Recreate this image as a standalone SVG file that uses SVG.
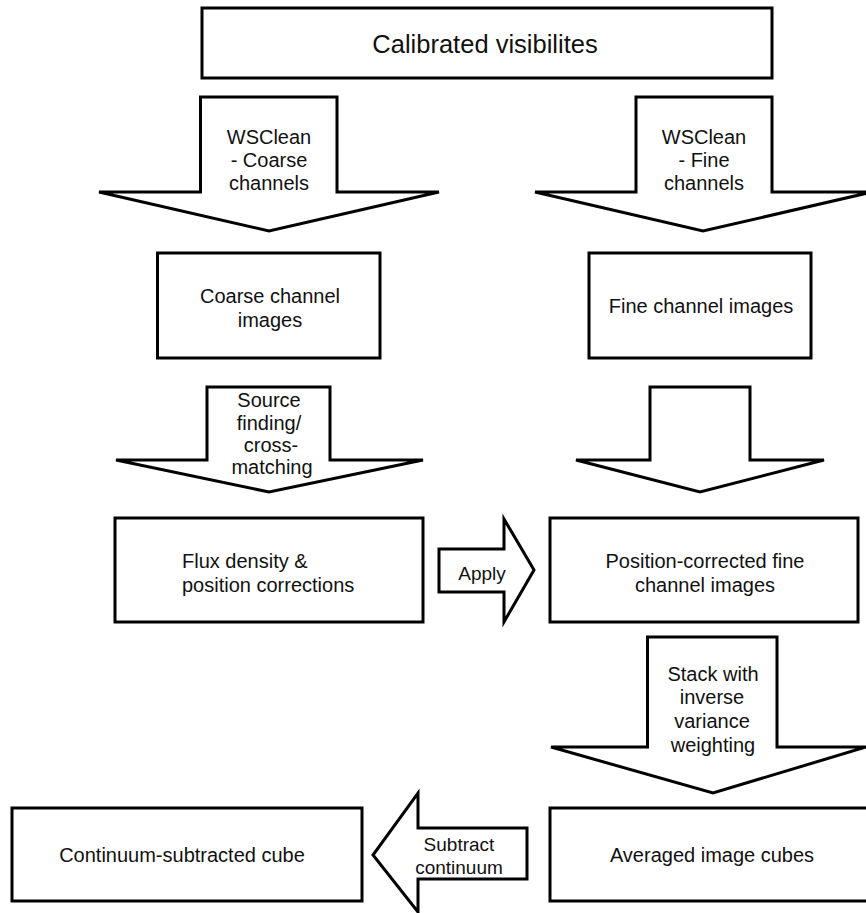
<svg xmlns="http://www.w3.org/2000/svg" width="866" height="913" viewBox="0 0 866 913">
<style>
.b{fill:#fff;stroke:#000;stroke-width:3;stroke-linejoin:miter}
.a{fill:#fff;stroke:#000;stroke-width:3;stroke-linejoin:miter}
text{font-family:"Liberation Sans",Arial,sans-serif;font-size:20px;fill:#111;text-anchor:middle}
</style>
<rect width="866" height="913" fill="#fff"/>
<g id="calibrated">
<rect class="b" x="202" y="8" width="570" height="70"/>
<text x="485" y="53" style="font-size:25.5px">Calibrated visibilites</text>
</g>
<g id="coarse">
<rect class="b" x="157.5" y="253" width="222.5" height="105"/>
<text x="270" y="303">Coarse channel</text>
<text x="270" y="327">images</text>
</g>
<g id="fine">
<rect class="b" x="589" y="253" width="222" height="105"/>
<text x="701" y="313">Fine channel images</text>
</g>
<g id="flux">
<rect class="b" x="115" y="518" width="308" height="104"/>
<text x="182" y="568" style="text-anchor:start">Flux density &amp;</text>
<text x="182" y="592" style="text-anchor:start">position corrections</text>
</g>
<g id="poscorr">
<rect class="b" x="550" y="518" width="308" height="104"/>
<text x="705" y="568">Position-corrected fine</text>
<text x="705" y="592">channel images</text>
</g>
<g id="continuum">
<rect class="b" x="12" y="808" width="350" height="93"/>
<text x="182" y="862">Continuum-subtracted cube</text>
</g>
<g id="averaged">
<rect class="b" x="550" y="808" width="330" height="93"/>
<text x="712" y="862">Averaged image cubes</text>
</g>
<g id="connectors">
<g id="arrow-wsclean-coarse">
<polygon class="a" points="200.5,97 337,97 337,192 439,192 269,231 99,192 200.5,192"/>
<text x="269" y="144">WSClean</text>
<text x="269" y="167">- Coarse</text>
<text x="269" y="190">channels</text>
</g>
<g id="arrow-wsclean-fine">
<polygon class="a" points="636,97 772,97 772,192 872,192 703,231 535,192 636,192"/>
<text x="704" y="144">WSClean</text>
<text x="704" y="167">- Fine</text>
<text x="704" y="190">channels</text>
</g>
<g id="arrow-source">
<polygon class="a" points="207,387 330,387 330,460 423,460 269,492 116,460 207,460"/>
<text x="269" y="407">Source</text>
<text x="269" y="430">finding/</text>
<text x="271" y="452">cross-</text>
<text x="272" y="474">matching</text>
</g>
<g id="arrow-fine-down">
<polygon class="a" points="650,387 750,387 750,460 824,460 700,492 576,460 650,460"/>
</g>
<g id="arrow-apply">
<polygon class="a" points="439,549 504,549 504,519 534,570 504,622 504,592 439,592"/>
<text x="482" y="580" style="font-size:19px">Apply</text>
</g>
<g id="arrow-stack">
<polygon class="a" points="647.5,637 777,637 777,747 866,747 713,793 551,747 647.5,747"/>
<text x="713" y="681">Stack with</text>
<text x="712" y="704">inverse</text>
<text x="712" y="728">variance</text>
<text x="713" y="752">weighting</text>
</g>
<g id="arrow-subtract">
<polygon class="a" points="527,828 527,879 418,879 418,912 373,855 418,793 418,828"/>
<text x="459" y="851" style="font-size:19px">Subtract</text>
<text x="459" y="874" style="font-size:19px">continuum</text>
</g>
</g>
</svg>
